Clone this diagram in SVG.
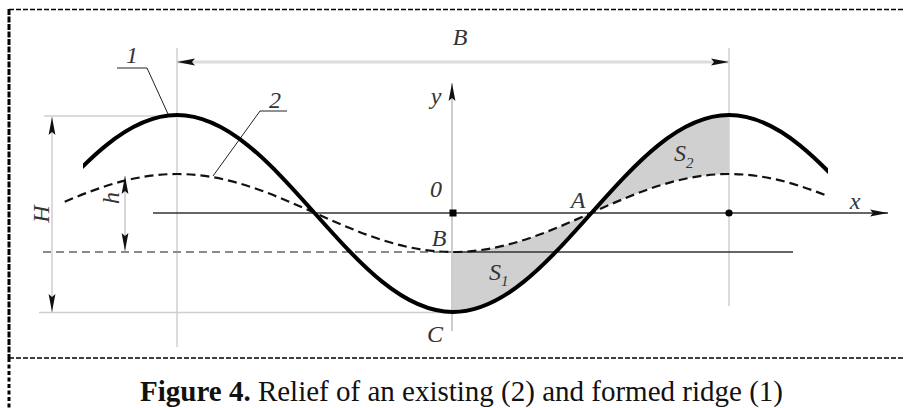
<svg xmlns="http://www.w3.org/2000/svg" width="906" height="408" viewBox="0 0 906 408">
<style>
.lbl{font-family:"Liberation Serif","Times New Roman",serif;font-style:italic;font-size:24px;fill:#333}
.sub{font-size:15px}
.ext{stroke:#cfcfcf;stroke-width:1.5;fill:none}
.dim{stroke:#d6d6d6;stroke-width:2;fill:none}
.thin{stroke:#222;stroke-width:1;fill:none}
.shade{fill:#d0d0d0;stroke:none}
.cap{font-family:"Liberation Serif","Times New Roman",serif;font-size:29px;fill:#111}
.border{stroke:#000;fill:none}
</style>
<defs>
<marker id="arr" markerUnits="userSpaceOnUse" markerWidth="20" markerHeight="8" refX="18" refY="4" orient="auto-start-reverse">
<path d="M0,0.6 L18,4 L0,7.4 L3,4 z" fill="#111"/>
</marker>
<clipPath id="c1"><rect x="83" y="0" width="745" height="408"/></clipPath>
<clipPath id="c2"><rect x="63" y="0" width="766" height="408"/></clipPath>
</defs>
<rect x="0" y="0" width="906" height="408" fill="#fff"/>

<g id="frame">
<line class="border" x1="9" y1="9.5" x2="905" y2="9.5" stroke-width="1.5" stroke-dasharray="5 2"/>
<line class="border" x1="9" y1="358" x2="905" y2="358" stroke-width="1.5" stroke-dasharray="5 2"/>
<line class="border" x1="9" y1="9" x2="9" y2="358" stroke-width="3" stroke-dasharray="6 1.5"/>
<line class="border" x1="9" y1="358" x2="9" y2="408" stroke-width="3" stroke-dasharray="4 2.5"/>
</g>

<g id="areas">
<path id="S1-area" class="shade" d="M453,252 C502.94,252 546,232.98 591,213 L591,213.5 C546,263.96 502.94,312 453,312 Z"/>
<path id="S2-area" class="shade" d="M591,213 C636,193.02 679.06,174 729,174 L729,115 C679.06,115 636,163.04 591,213.5 Z"/>
</g>

<g id="guides">
<line class="ext" x1="177" y1="48" x2="177" y2="347"/>
<line class="ext" x1="729" y1="48" x2="729" y2="306"/>
<line class="ext" x1="44" y1="116" x2="177" y2="116"/>
<line class="ext" x1="39" y1="312.5" x2="453" y2="312.5"/>
<line x1="43" y1="252" x2="453" y2="252" stroke="#8a8a8a" stroke-width="2" stroke-dasharray="8 5"/>
<line x1="453" y1="252" x2="793" y2="252" stroke="#333" stroke-width="1.5"/>
</g>

<g id="connectors">
<line id="B-dim" x1="177" y1="62" x2="729" y2="62" stroke="#dcdcdc" stroke-width="3" marker-start="url(#arr)" marker-end="url(#arr)"/>
<line id="H-dim" class="ext" x1="52" y1="312" x2="52" y2="117" marker-start="url(#arr)" marker-end="url(#arr)"/>
<line id="h-dim" class="dim" x1="125" y1="251" x2="125" y2="176" marker-start="url(#arr)" marker-end="url(#arr)"/>
<line id="y-axis" x1="452" y1="331" x2="452" y2="83" stroke="#bdbdbd" stroke-width="1.5" marker-end="url(#arr)"/>
<line id="x-axis" x1="153" y1="213" x2="888" y2="213" stroke="#333" stroke-width="1.5" marker-end="url(#arr)"/>
<polyline id="leader1" class="thin" points="117,68 147,68 168,114"/>
<polyline id="leader2" class="thin" points="287,111 260,111 213,176"/>
</g>

<g id="curve2">
<path clip-path="url(#c2)" d="M39,213 C84,193.02 127.06,174 177,174 C226.94,174 270,193.02 315,213 C360,232.98 403.06,252 453,252 C502.94,252 546,232.98 591,213 C636,193.02 679.06,174 729,174 C778.94,174 822,193.02 867,213" fill="none" stroke="#111" stroke-width="2.2" stroke-dasharray="9 5"/>
</g>

<g id="curve1">
<path clip-path="url(#c1)" d="M39,213.5 C84,163.04 127.06,115 177,115 C226.94,115 270,163.04 315,213.5 C360,263.96 403.06,312 453,312 C502.94,312 546,263.96 591,213.5 C636,163.04 679.06,115 729,115 C778.94,115 822,163.04 867,213.5" fill="none" stroke="#000" stroke-width="4"/>
</g>

<g id="points">
<rect x="449.5" y="209.5" width="7" height="7" fill="#000"/>
<circle cx="729" cy="213" r="3.6" fill="#000"/>
</g>

<g id="labels">
<text class="lbl" x="460" y="45" text-anchor="middle">B</text>
<text class="lbl" x="132" y="63" text-anchor="middle">1</text>
<text class="lbl" x="275" y="108" text-anchor="middle">2</text>
<text class="lbl" x="436" y="104" text-anchor="middle">y</text>
<text class="lbl" x="436" y="197" text-anchor="middle">0</text>
<text class="lbl" x="578" y="208" text-anchor="middle">A</text>
<text class="lbl" x="439" y="246" text-anchor="middle">B</text>
<text class="lbl" x="435" y="342" text-anchor="middle">C</text>
<text class="lbl" x="855" y="209" text-anchor="middle">x</text>
<text class="lbl" transform="translate(49,214) rotate(-90)" text-anchor="middle">H</text>
<text class="lbl" transform="translate(119,198) rotate(-90)" text-anchor="middle">h</text>
<text class="lbl" x="489" y="280" fill="#555">S<tspan class="sub" dy="6">1</tspan></text>
<text class="lbl" x="674" y="161" fill="#555">S<tspan class="sub" dy="7">2</tspan></text>
</g>

<g id="caption">
<text class="cap" x="461.5" y="401" text-anchor="middle"><tspan font-weight="bold">Figure 4.</tspan> Relief of an existing (2) and formed ridge (1)</text>
</g>
</svg>
